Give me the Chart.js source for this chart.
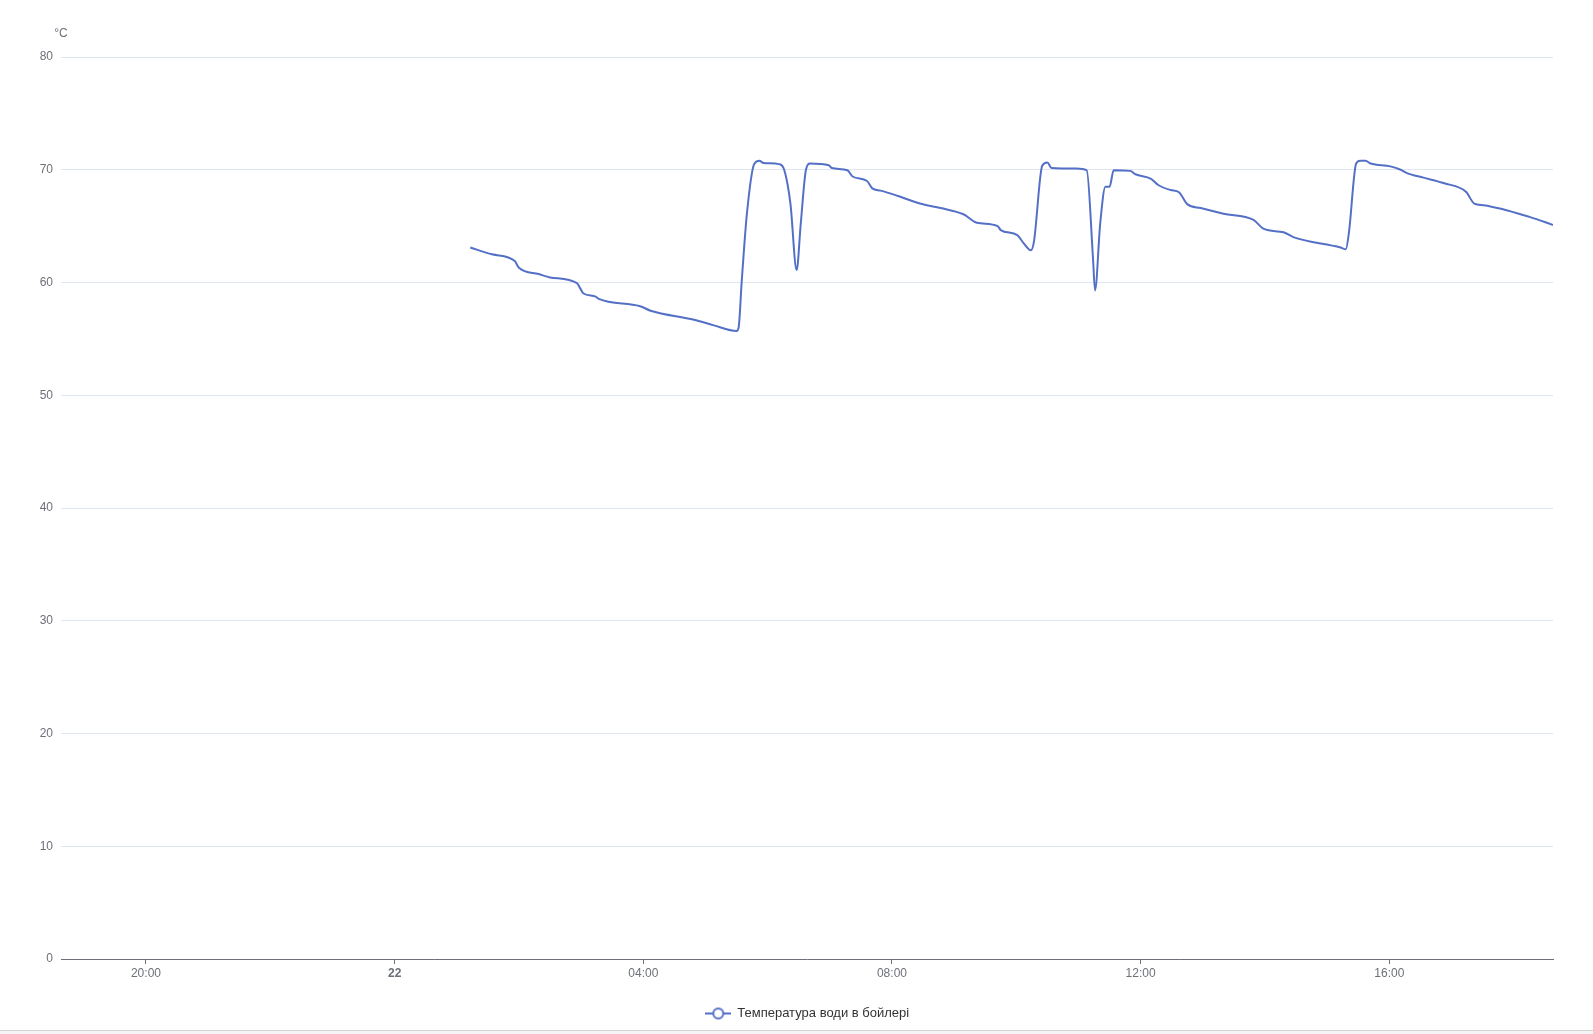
<!DOCTYPE html>
<html lang="uk">
<head>
<meta charset="utf-8">
<title>Температура води в бойлері</title>
<script src="https://cdn.jsdelivr.net/npm/chart.js@4.4.1/dist/chart.umd.min.js"></script>
<style>
  html, body { margin: 0; padding: 0; background: #f5f5f5; }
  #wrap { width: 1593px; height: 1030px; background: #fff; border-bottom: 1px solid #d2d2d2; position: relative; }
</style>
</head>
<body>
<div id="wrap"><canvas id="chart"></canvas></div>
<script>
// 1. Données (heure du 22, température en °C)
const times = [
  '01:13', '01:34', '01:56', '01:58', '02:00', '02:19', '02:30', '02:56', '02:59', '03:02',
  '03:14', '03:17', '03:57', '04:07', '04:49', '05:08', '05:30', '05:32', '05:35', '05:40',
  '05:47', '05:52', '05:56', '06:11', '06:16', '06:22', '06:28', '06:32', '06:37', '06:41',
  '06:59', '07:02', '07:17', '07:22', '07:36', '07:41', '07:49', '08:05', '08:27', '08:47',
  '09:09', '09:22', '09:42', '09:45', '10:01', '10:07', '10:14', '10:17', '10:25', '10:30',
  '10:34', '10:58', '11:08', '11:14', '11:16', '11:21', '11:26', '11:30', '11:34', '11:50',
  '11:55', '12:10', '12:17', '12:29', '12:37', '12:45', '12:58', '13:20', '13:49', '13:59',
  '14:18', '14:28', '15:13', '15:18', '15:21', '15:28', '15:32', '15:37', '15:42', '16:01',
  '16:11', '16:17', '16:33', '16:53', '17:14', '17:22', '17:31', '18:16', '18:38'
];
const temps = [
  63.1, 62.5, 61.9, 61.6, 61.3, 60.75, 60.45, 59.95, 59.5, 59.05,
  58.75, 58.55, 57.9, 57.5, 56.7, 56.2, 55.7, 56.0, 60.1, 66.1,
  70.5, 70.8, 70.6, 70.5, 70.0, 67.0, 61.1, 65.25, 70.0, 70.55,
  70.4, 70.15, 69.95, 69.4, 69.0, 68.35, 68.15, 67.7, 67.0, 66.6,
  66.05, 65.3, 65.0, 64.65, 64.2, 63.5, 62.85, 63.6, 70.35, 70.65,
  70.15, 70.1, 69.95, 62.2, 59.3, 65.25, 68.5, 68.5, 69.95, 69.9,
  69.6, 69.2, 68.65, 68.2, 68.0, 66.95, 66.6, 66.1, 65.55, 64.75,
  64.45, 64.0, 63.1, 62.95, 64.4, 70.55, 70.8, 70.8, 70.55, 70.3,
  70.0, 69.7, 69.3, 68.8, 68.05, 67.0, 66.85, 65.8, 65.1
];

// Graduations : heures par rapport à minuit du 22 (0 = "22")
const xTicks = [-4, 0, 4, 8, 12, 16];
const yTicks = [0, 10, 20, 30, 40, 50, 60, 70, 80];
const seriesName = 'Температура води в бойлері';
const unit = '°C';
const xMin = -(5 + 22 / 60);   // 18:38 la veille
const xMax = 18 + 38 / 60;     // 18:38

const FONT = '"Liberation Sans", Arial, sans-serif';
const LINE_COLOR = '#5470c6';
const AXIS_COLOR = '#6e7079';

function toHours(hhmm) {
  const [h, m] = hhmm.split(':').map(Number);
  return h + m / 60;
}

function tickLabel(v) {
  if (v === 0) return '22';
  const h = ((v % 24) + 24) % 24;
  return String(h).padStart(2, '0') + ':00';
}

// 2. Icône de légende : trait + cercle
const legendIcon = document.createElement('canvas');
legendIcon.width = 26;
legendIcon.height = 14;
(function () {
  const c = legendIcon.getContext('2d');
  c.strokeStyle = LINE_COLOR;
  c.lineWidth = 2;
  c.beginPath();
  c.moveTo(0, 7);
  c.lineTo(26, 7);
  c.stroke();
  c.beginPath();
  c.arc(13, 7, 5, 0, Math.PI * 2);
  c.fillStyle = '#fff';
  c.fill();
  c.stroke();
})();

// 3. Libellé de l'unité au-dessus de l'axe Y + recentrage de la légende
const unitLabel = {
  id: 'unitLabel',
  afterLayout(chart) {
    // la légende d'origine est centrée sur la page entière, pas sur la zone du graphique
    chart.legend.left += 31;
    chart.legend.right += 31;
  },
  afterDraw(chart) {
    const { ctx, chartArea } = chart;
    ctx.save();
    ctx.font = '12px ' + FONT;
    ctx.fillStyle = AXIS_COLOR;
    ctx.textAlign = 'center';
    ctx.textBaseline = 'middle';
    ctx.fillText(unit, chartArea.left, chartArea.top - 23);
    ctx.restore();
  }
};

const points = times.map((t, i) => ({ x: toHours(t), y: temps[i] }));

new Chart(document.getElementById('chart'), {
  type: 'line',
  data: {
    datasets: [{
      label: seriesName,
      data: points,
      borderColor: LINE_COLOR,
      backgroundColor: LINE_COLOR,
      borderWidth: 2,
      pointRadius: 0,
      cubicInterpolationMode: 'monotone',
      borderJoinStyle: 'round',
      fill: false
    }]
  },
  options: {
    responsive: true,
    maintainAspectRatio: false,
    animation: false,
    layout: { padding: { top: 57, right: 40, bottom: 0, left: 0 } },
    plugins: {
      tooltip: { enabled: false },
      legend: {
        position: 'bottom',
        labels: {
          usePointStyle: true,
          pointStyleWidth: 25,
          padding: 10,
          color: '#333',
          font: { family: FONT, size: 13 },
          generateLabels: () => [{
            text: seriesName,
            pointStyle: legendIcon,
            fillStyle: '#fff',
            strokeStyle: LINE_COLOR,
            fontColor: '#333',
            lineWidth: 0,
            hidden: false,
            datasetIndex: 0
          }]
        }
      }
    },
    scales: {
      x: {
        type: 'linear',
        min: xMin,
        max: xMax,
        afterBuildTicks: s => { s.ticks = xTicks.map(v => ({ value: v })); },
        afterFit: s => { s.height = 38; },
        grid: { drawOnChartArea: false, drawTicks: true, tickLength: 5, color: AXIS_COLOR },
        border: { color: AXIS_COLOR, width: 1 },
        ticks: {
          autoSkip: false,
          maxRotation: 0,
          padding: 2,
          color: AXIS_COLOR,
          font: ctx => ({ family: FONT, size: 12, weight: ctx.tick && ctx.tick.value === 0 ? 'bold' : 'normal' }),
          callback: v => tickLabel(v)
        }
      },
      y: {
        min: 0,
        max: 80,
        afterBuildTicks: s => { s.ticks = yTicks.map(v => ({ value: v })); },
        afterFit: s => { s.width = 61; },
        grid: { color: '#e0e6f1', drawTicks: false },
        border: { display: false },
        ticks: { padding: 8, color: AXIS_COLOR, font: { family: FONT, size: 12 } }
      }
    }
  },
  plugins: [unitLabel]
});
</script>
</body>
</html>
